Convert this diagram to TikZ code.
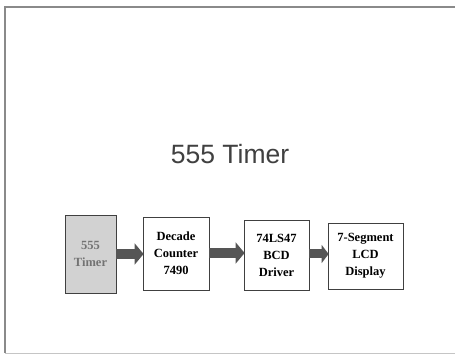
\documentclass[tikz,border=0pt]{standalone}
\usepackage{fontspec}
\setmainfont{Liberation Serif}
\newfontfamily\titlefont{Liberation Sans}
\usetikzlibrary{arrows.meta}
\definecolor{framegray}{HTML}{8A8A8A}
\definecolor{boxgray}{HTML}{D2D2D2}
\definecolor{arrowgray}{HTML}{555555}
\tikzset{
  blk/.style={draw=black!75, line width=0.8pt, inner sep=0pt, align=center,
    font=\fontsize{12.5}{17}\selectfont\bfseries},
  fatarrow/.style={draw=arrowgray, line width=10pt,
    -{Triangle[length=9pt,width=21pt]}, shorten >=-1pt},
}
\begin{document}
\begin{tikzpicture}[x=1pt,y=-1pt]
\useasboundingbox (0,0) rectangle (455,355);
\fill[white] (0,0) rectangle (455,355);
\draw[framegray, line width=1.4pt] (455,7) -- (5,7) -- (5,353);
\draw[framegray!50, line width=0.6pt] (5,353) -- (455,353);
\node[font=\titlefont\fontsize{26.5}{30}\selectfont, text=black!75] (title) at (230,154) {555 Timer};
\node[blk, fill=boxgray, text=black!55, minimum width=51pt, minimum height=78pt] (t) at (90.5,254) {555\\Timer};
\node[blk, minimum width=66pt, minimum height=73pt] (c) at (176,253.5) {Decade\\Counter\\7490};
\node[blk, minimum width=65pt, minimum height=70pt] (d) at (276.5,255) {74LS47\\BCD\\Driver};
\node[blk, minimum width=75pt, minimum height=66pt] (l) at (365.5,256) {7-Segment\\LCD\\Display};
\draw[fatarrow] (t.east |- 0,254) -- (c.west |- 0,254);
\draw[fatarrow] (c.east |- 0,253) -- (d.west |- 0,253);
\draw[fatarrow, line width=9pt, -{Triangle[length=7pt,width=18pt]}] (d.east |- 0,254) -- (l.west |- 0,254);
\end{tikzpicture}
\end{document}
